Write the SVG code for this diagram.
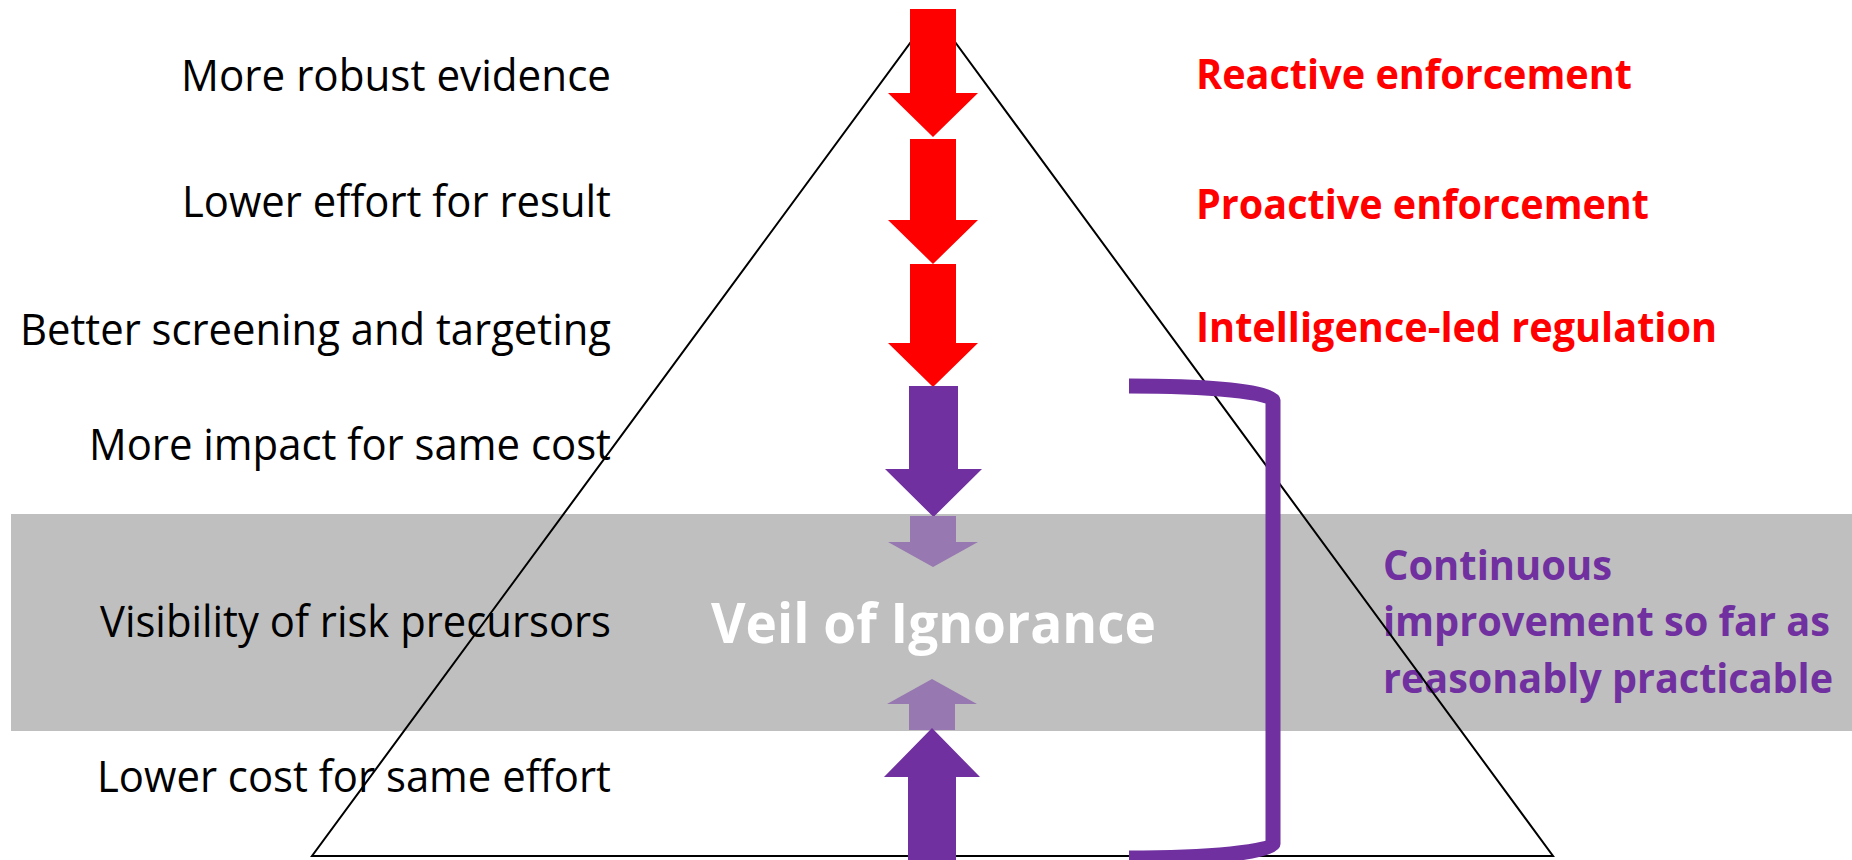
<svg xmlns="http://www.w3.org/2000/svg" width="1852" height="860" viewBox="0 0 1852 860">
  <style>
    .lbl { font-family: "Open Sans", "Liberation Sans", sans-serif; font-size: 43px; fill: #000; }
    .red { font-family: "Open Sans", "Liberation Sans", sans-serif; font-size: 42px; font-weight: bold; fill: #FF0000; }
    .pur { font-family: "Open Sans", "Liberation Sans", sans-serif; font-size: 41px; font-weight: bold; fill: #7030A0; }
    .veil { font-family: "Open Sans", "Liberation Sans", sans-serif; font-size: 55px; font-weight: bold; fill: #FFFFFF; }
    .redA { fill: #FF0000; }
    .purA { fill: #7030A0; }
    .fadeA { fill: #9778B0; }
  </style>
  <rect width="1852" height="860" fill="#FFFFFF"/>
  <g id="veil-band">
    <rect x="11" y="514" width="1841" height="217" fill="#BFBFBF"/>
  </g>
  <g id="left-labels">
    <text class="lbl" x="181" y="91" textLength="430" lengthAdjust="spacingAndGlyphs">More robust evidence</text>
    <text class="lbl" x="182" y="217" textLength="429" lengthAdjust="spacingAndGlyphs">Lower effort for result</text>
    <text class="lbl" x="20" y="345" textLength="591" lengthAdjust="spacingAndGlyphs">Better screening and targeting</text>
    <text class="lbl" x="89" y="460" textLength="522" lengthAdjust="spacingAndGlyphs">More impact for same cost</text>
    <text class="lbl" x="100" y="637" textLength="511" lengthAdjust="spacingAndGlyphs">Visibility of risk precursors</text>
    <text class="lbl" x="97" y="792" textLength="514" lengthAdjust="spacingAndGlyphs">Lower cost for same effort</text>
  </g>
  <g id="right-labels">
    <text class="red" x="1196" y="89" textLength="436" lengthAdjust="spacingAndGlyphs">Reactive enforcement</text>
    <text class="red" x="1196" y="219" textLength="453" lengthAdjust="spacingAndGlyphs">Proactive enforcement</text>
    <text class="red" x="1196" y="342" textLength="521" lengthAdjust="spacingAndGlyphs">Intelligence-led regulation</text>
  </g>
  <g id="continuous-label">
    <text class="pur" x="1383" y="580" textLength="229" lengthAdjust="spacingAndGlyphs">Continuous</text>
    <text class="pur" x="1383" y="636" textLength="447" lengthAdjust="spacingAndGlyphs">improvement so far as</text>
    <text class="pur" x="1383" y="693" textLength="450" lengthAdjust="spacingAndGlyphs">reasonably practicable</text>
  </g>
  <g id="pyramid">
    <polygon points="933,12 1553,856 312,856" fill="none" stroke="#000000" stroke-width="2"/>
  </g>
  <g id="connectors">
    <polygon class="redA" points="910,9 956,9 956,93 978,93 933,137 888,93 910,93"/>
    <polygon class="redA" points="910,139 956,139 956,220 978,220 933,264 888,220 910,220"/>
    <polygon class="redA" points="910,264 956,264 956,343 978,343 933,387 888,343 910,343"/>
    <polygon class="purA" points="909,386 958,386 958,469 982,469 933.5,517 885,469 909,469"/>
    <polygon class="fadeA" points="910,516 956,516 956,542 978,542 933,567 888,542 910,542"/>
    <polygon class="fadeA" points="909,730 955,730 955,704 977,704 932,679 887,704 909,704"/>
    <polygon class="purA" points="908,860 956,860 956,777 980,777 932,728 884,777 908,777"/>
    <path d="M1129,386 A144,14 0 0 1 1273,400 L1273,844 A144,14 0 0 1 1129,858" fill="none" stroke="#7030A0" stroke-width="15"/>
  </g>
  <g id="veil-label">
    <text class="veil" x="711" y="643" textLength="445" lengthAdjust="spacingAndGlyphs">Veil of Ignorance</text>
  </g>
</svg>
